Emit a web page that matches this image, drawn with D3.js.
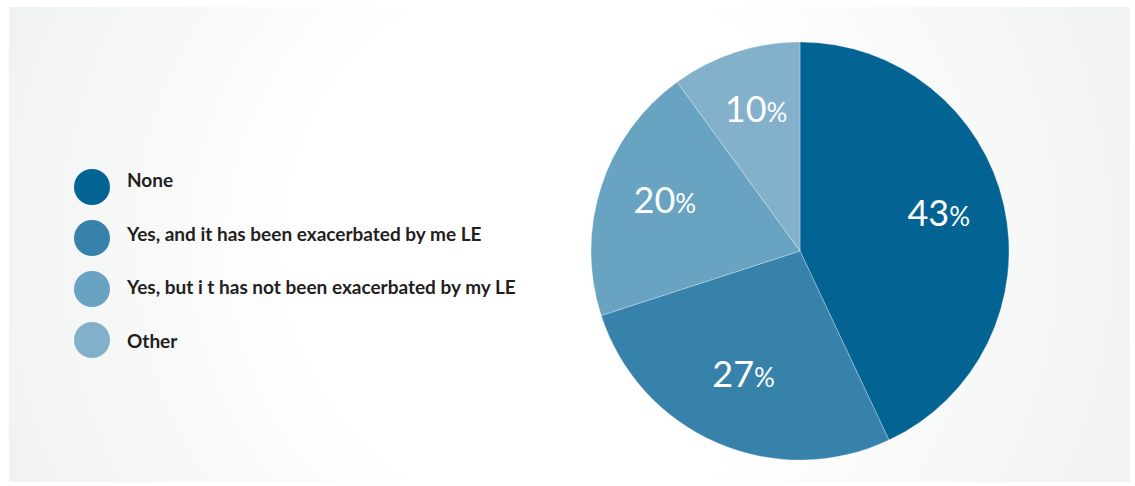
<!DOCTYPE html>
<meta charset="utf-8">
<title>LE pie</title>
<body>
<script src="https://cdn.jsdelivr.net/npm/d3@7"></script>
<style>
html, body {
    margin: 0;
    background: #fff;
}
svg {
    display: block;
}
</style>
<script>
var categories = ["None",
                  "Yes, and it has been exacerbated by me LE",
                  "Yes, but i t has not been exacerbated by my LE",
                  "Other"],
    values = [43, 27, 20, 10],
    colors = ["#036494", "#3782ab", "#68a3c2", "#83b1cb"];

var width = 1135,
    height = 486,
    cx = 800,
    cy = 251,
    radius = 209;

var svg = d3.select("body").append("svg")
    .attr("width", width)
    .attr("height", height);

var grad = svg.append("defs").append("radialGradient")
    .attr("id", "glow")
    .attr("gradientUnits", "userSpaceOnUse")
    .attr("cx", 560).attr("cy", 245).attr("r", 580);
grad.append("stop").attr("offset", 0.45).attr("stop-color", "#ffffff");
grad.append("stop").attr("offset", 1).attr("stop-color", "#f1f2f2");

svg.append("rect")
    .attr("x", 9).attr("y", 7)
    .attr("width", 1121).attr("height", 475)
    .attr("fill", "url(#glow)");

var color = d3.scaleOrdinal().domain(categories).range(colors);

var pie = d3.pie().sort(null)(values);
var arc = d3.arc().innerRadius(0).outerRadius(radius);
var labelArc = d3.arc().innerRadius(radius * 0.68).outerRadius(radius * 0.68);

var g = svg.append("g").attr("transform", "translate(" + cx + "," + cy + ")");

g.selectAll("path")
    .data(pie)
    .enter().append("path")
    .attr("d", arc)
    .attr("fill", function(d, i) { return color(categories[i]); })
    .attr("stroke", "#fff")
    .attr("stroke-opacity", 0.35)
    .attr("stroke-width", 0.8);

var lbl = g.selectAll("text")
    .data(pie)
    .enter().append("text")
    .attr("transform", function(d) { return "translate(" + labelArc.centroid(d) + ")"; })
    .attr("text-anchor", "middle")
    .attr("dy", "0.36em")
    .attr("fill", "#fff")
    .style("font-family", "Lato, sans-serif");
lbl.append("tspan")
    .style("font-size", "36px")
    .text(function(d) { return d.value; });
lbl.append("tspan")
    .style("font-size", "26px")
    .text("%");

// legend: swatches and labels sit on slightly different spacings
var swatchY = d3.scalePoint().domain(categories).range([187, 340]),
    labelY = d3.scalePoint().domain(categories).range([187, 348]);

var legend = svg.append("g");

legend.selectAll("circle")
    .data(categories)
    .enter().append("circle")
    .attr("cx", 92)
    .attr("cy", function(d) { return swatchY(d); })
    .attr("r", 18)
    .attr("fill", function(d) { return color(d); });

legend.selectAll("text")
    .data(categories)
    .enter().append("text")
    .attr("x", 127)
    .attr("y", function(d) { return labelY(d); })
    .attr("fill", "#231f20")
    .style("font-family", "Lato, sans-serif")
    .style("font-weight", "bold")
    .style("font-size", "19px")
    .text(function(d) { return d; });
</script>
